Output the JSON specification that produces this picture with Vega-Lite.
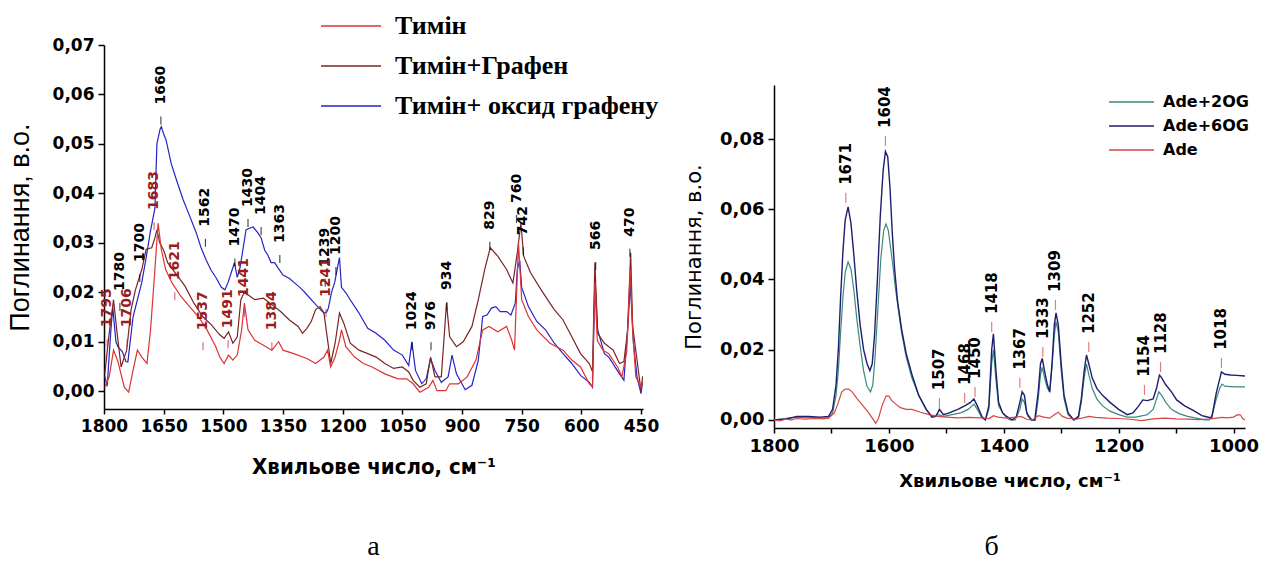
{
"$schema": "https://vega.github.io/schema/vega-lite/v6.json",
"background": "white",
"padding": {"left": 6, "top": 6, "right": 0, "bottom": 2},
"spacing": 24,
"config": {"view": {"stroke": null}, "axis": {"grid": false, "domainColor": "black", "tickColor": "black", "labelColor": "black", "titleColor": "black", "domainWidth": 1.5, "tickWidth": 1.5, "labelOverlap": false, "labelFlush": false}},
"resolve": {"scale": {"color": "independent"}, "legend": {"color": "independent"}},
"datasets": {
"thy": [
{"s":"Тимін+ оксид графену","x":1798,"y":0.003},{"s":"Тимін+ оксид графену","x":1792,"y":0.001},{"s":"Тимін+ оксид графену","x":1783,"y":0.012},{"s":"Тимін+ оксид графену","x":1778,"y":0.017},{"s":"Тимін+ оксид графену","x":1770,"y":0.01},{"s":"Тимін+ оксид графену","x":1765,"y":0.009},{"s":"Тимін+ оксид графену","x":1754,"y":0.008},{"s":"Тимін+ оксид графену","x":1745,"y":0.006},{"s":"Тимін+ оксид графену","x":1740,"y":0.0059},{"s":"Тимін+ оксид графену","x":1727,"y":0.015},{"s":"Тимін+ оксид графену","x":1716,"y":0.0185},{"s":"Тимін+ оксид графену","x":1705,"y":0.022},{"s":"Тимін+ оксид графену","x":1694,"y":0.027},{"s":"Тимін+ оксид графену","x":1684,"y":0.032},{"s":"Тимін+ оксид графену","x":1672,"y":0.037},{"s":"Тимін+ оксид графену","x":1667,"y":0.05},{"s":"Тимін+ оксид графену","x":1659,"y":0.053},{"s":"Тимін+ оксид графену","x":1656,"y":0.0535},{"s":"Тимін+ оксид графену","x":1650,"y":0.052},{"s":"Тимін+ оксид графену","x":1644,"y":0.0508},{"s":"Тимін+ оксид графену","x":1631,"y":0.046},{"s":"Тимін+ оксид графену","x":1619,"y":0.043},{"s":"Тимін+ оксид графену","x":1601,"y":0.0387},{"s":"Тимін+ оксид графену","x":1584,"y":0.0353},{"s":"Тимін+ оксид графену","x":1568,"y":0.032},{"s":"Тимін+ оксид графену","x":1556,"y":0.029},{"s":"Тимін+ оксид графену","x":1543,"y":0.0265},{"s":"Тимін+ оксид графену","x":1531,"y":0.0245},{"s":"Тимін+ оксид графену","x":1518,"y":0.0229},{"s":"Тимін+ оксид графену","x":1505,"y":0.021},{"s":"Тимін+ оксид графену","x":1496,"y":0.0205},{"s":"Тимін+ оксид графену","x":1488,"y":0.022},{"s":"Тимін+ оксид графену","x":1480,"y":0.024},{"s":"Тимін+ оксид графену","x":1472,"y":0.026},{"s":"Тимін+ оксид графену","x":1465,"y":0.023},{"s":"Тимін+ оксид графену","x":1458,"y":0.025},{"s":"Тимін+ оксид графену","x":1450,"y":0.029},{"s":"Тимін+ оксид графену","x":1443,"y":0.0326},{"s":"Тимін+ оксид графену","x":1433,"y":0.033},{"s":"Тимін+ оксид графену","x":1425,"y":0.0332},{"s":"Тимін+ оксид графену","x":1413,"y":0.032},{"s":"Тимін+ оксид графену","x":1405,"y":0.031},{"s":"Тимін+ оксид графену","x":1396,"y":0.0285},{"s":"Тимін+ оксид графену","x":1388,"y":0.0275},{"s":"Тимін+ оксид графену","x":1380,"y":0.026},{"s":"Тимін+ оксид графену","x":1371,"y":0.026},{"s":"Тимін+ оксид графену","x":1363,"y":0.025},{"s":"Тимін+ оксид графену","x":1350,"y":0.0235},{"s":"Тимін+ оксид графену","x":1334,"y":0.0228},{"s":"Тимін+ оксид графену","x":1315,"y":0.0215},{"s":"Тимін+ оксид графену","x":1301,"y":0.0205},{"s":"Тимін+ оксид графену","x":1290,"y":0.0195},{"s":"Тимін+ оксид графену","x":1279,"y":0.0185},{"s":"Тимін+ оксид графену","x":1263,"y":0.0171},{"s":"Тимін+ оксид графену","x":1247,"y":0.0158},{"s":"Тимін+ оксид графену","x":1240,"y":0.016},{"s":"Тимін+ оксид графену","x":1236,"y":0.0168},{"s":"Тимін+ оксид графену","x":1228,"y":0.02},{"s":"Тимін+ оксид графену","x":1220,"y":0.022},{"s":"Тимін+ оксид графену","x":1214,"y":0.0246},{"s":"Тимін+ оксид графену","x":1208,"y":0.027},{"s":"Тимін+ оксид графену","x":1203,"y":0.021},{"s":"Тимін+ оксид графену","x":1192,"y":0.0199},{"s":"Тимін+ оксид графену","x":1181,"y":0.0185},{"s":"Тимін+ оксид графену","x":1159,"y":0.0158},{"s":"Тимін+ оксид графену","x":1137,"y":0.0127},{"s":"Тимін+ оксид графену","x":1116,"y":0.0117},{"s":"Тимін+ оксид графену","x":1094,"y":0.0103},{"s":"Тимін+ оксид графену","x":1072,"y":0.0083},{"s":"Тимін+ оксид графену","x":1050,"y":0.0073},{"s":"Тимін+ оксид графену","x":1034,"y":0.0052},{"s":"Тимін+ оксид графену","x":1026,"y":0.01},{"s":"Тимін+ оксид графену","x":1017,"y":0.0042},{"s":"Тимін+ оксид графену","x":1001,"y":0.0015},{"s":"Тимін+ оксид графену","x":990,"y":0.0025},{"s":"Тимін+ оксид графену","x":979,"y":0.0066},{"s":"Тимін+ оксид графену","x":968,"y":0.0042},{"s":"Тимін+ оксид графену","x":952,"y":0.0018},{"s":"Тимін+ оксид графену","x":935,"y":0.0029},{"s":"Тимін+ оксид графену","x":925,"y":0.0073},{"s":"Тимін+ оксид графену","x":914,"y":0.0035},{"s":"Тимін+ оксид графену","x":892,"y":0.0003},{"s":"Тимін+ оксид графену","x":875,"y":0.0012},{"s":"Тимін+ оксид графену","x":859,"y":0.0063},{"s":"Тимін+ оксид графену","x":848,"y":0.0151},{"s":"Тимін+ оксид графену","x":837,"y":0.0154},{"s":"Тимін+ оксид графену","x":826,"y":0.0168},{"s":"Тимін+ оксид графену","x":815,"y":0.0171},{"s":"Тимін+ оксид графену","x":804,"y":0.0161},{"s":"Тимін+ оксид графену","x":788,"y":0.0161},{"s":"Тимін+ оксид графену","x":777,"y":0.0154},{"s":"Тимін+ оксид графену","x":766,"y":0.0178},{"s":"Тимін+ оксид графену","x":761,"y":0.0246},{"s":"Тимін+ оксид графену","x":755,"y":0.0265},{"s":"Тимін+ оксид графену","x":750,"y":0.021},{"s":"Тимін+ оксид графену","x":733,"y":0.0171},{"s":"Тимін+ оксид графену","x":712,"y":0.0141},{"s":"Тимін+ оксид графену","x":690,"y":0.0124},{"s":"Тимін+ оксид графену","x":668,"y":0.0097},{"s":"Тимін+ оксид графену","x":646,"y":0.0076},{"s":"Тимін+ оксид графену","x":624,"y":0.0056},{"s":"Тимін+ оксид графену","x":602,"y":0.0032},{"s":"Тимін+ оксид графену","x":580,"y":0.0018},{"s":"Тимін+ оксид графену","x":572,"y":0.0008},{"s":"Тимін+ оксид графену","x":566,"y":0.0225},{"s":"Тимін+ оксид графену","x":559,"y":0.0124},{"s":"Тимін+ оксид графену","x":542,"y":0.0076},{"s":"Тимін+ оксид графену","x":531,"y":0.0069},{"s":"Тимін+ оксид графену","x":504,"y":0.0035},{"s":"Тимін+ оксид графену","x":493,"y":0.0022},{"s":"Тимін+ оксид графену","x":482,"y":0.0144},{"s":"Тимін+ оксид графену","x":477,"y":0.0219},{"s":"Тимін+ оксид графену","x":469,"y":0.0097},{"s":"Тимін+ оксид графену","x":460,"y":0.0029},{"s":"Тимін+ оксид графену","x":450,"y":-0.0005},{"s":"Тимін+ оксид графену","x":446,"y":0.002},
{"s":"Тимін+Графен","x":1798,"y":0.0035},{"s":"Тимін+Графен","x":1787,"y":0.0117},{"s":"Тимін+Графен","x":1776,"y":0.0185},{"s":"Тимін+Графен","x":1768,"y":0.0124},{"s":"Тимін+Графен","x":1757,"y":0.0049},{"s":"Тимін+Графен","x":1743,"y":0.0083},{"s":"Тимін+Графен","x":1732,"y":0.0165},{"s":"Тимін+Графен","x":1721,"y":0.0205},{"s":"Тимін+Графен","x":1705,"y":0.0246},{"s":"Тимін+Графен","x":1694,"y":0.0287},{"s":"Тимін+Графен","x":1680,"y":0.029},{"s":"Тимін+Графен","x":1672,"y":0.031},{"s":"Тимін+Графен","x":1667,"y":0.0326},{"s":"Тимін+Графен","x":1660,"y":0.03},{"s":"Тимін+Графен","x":1650,"y":0.0285},{"s":"Тимін+Графен","x":1640,"y":0.026},{"s":"Тимін+Графен","x":1618,"y":0.0236},{"s":"Тимін+Графен","x":1596,"y":0.0212},{"s":"Тимін+Графен","x":1574,"y":0.0178},{"s":"Тимін+Графен","x":1552,"y":0.0151},{"s":"Тимін+Графен","x":1530,"y":0.0134},{"s":"Тимін+Графен","x":1509,"y":0.0114},{"s":"Тимін+Графен","x":1498,"y":0.0107},{"s":"Тимін+Графен","x":1487,"y":0.012},{"s":"Тимін+Графен","x":1476,"y":0.0097},{"s":"Тимін+Графен","x":1465,"y":0.011},{"s":"Тимін+Графен","x":1456,"y":0.0185},{"s":"Тимін+Графен","x":1448,"y":0.0199},{"s":"Тимін+Графен","x":1438,"y":0.0195},{"s":"Тимін+Графен","x":1421,"y":0.0185},{"s":"Тимін+Графен","x":1399,"y":0.0188},{"s":"Тимін+Графен","x":1378,"y":0.0175},{"s":"Тимін+Графен","x":1356,"y":0.0161},{"s":"Тимін+Графен","x":1334,"y":0.0144},{"s":"Тимін+Графен","x":1312,"y":0.0131},{"s":"Тимін+Графен","x":1301,"y":0.0117},{"s":"Тимін+Графен","x":1290,"y":0.0127},{"s":"Тимін+Графен","x":1279,"y":0.0141},{"s":"Тимін+Графен","x":1268,"y":0.0165},{"s":"Тимін+Графен","x":1257,"y":0.0171},{"s":"Тимін+Графен","x":1247,"y":0.0158},{"s":"Тимін+Графен","x":1230,"y":0.0056},{"s":"Тимін+Графен","x":1219,"y":0.0097},{"s":"Тимін+Графен","x":1208,"y":0.0158},{"s":"Тимін+Графен","x":1197,"y":0.0137},{"s":"Тимін+Графен","x":1181,"y":0.0097},{"s":"Тимін+Графен","x":1159,"y":0.0083},{"s":"Тимін+Графен","x":1137,"y":0.0076},{"s":"Тимін+Графен","x":1116,"y":0.0069},{"s":"Тимін+Графен","x":1094,"y":0.0056},{"s":"Тимін+Графен","x":1072,"y":0.0046},{"s":"Тимін+Графен","x":1050,"y":0.0049},{"s":"Тимін+Графен","x":1034,"y":0.0039},{"s":"Тимін+Графен","x":1023,"y":0.0022},{"s":"Тимін+Графен","x":1006,"y":0.0008},{"s":"Тимін+Графен","x":990,"y":0.0015},{"s":"Тимін+Графен","x":979,"y":0.0069},{"s":"Тимін+Графен","x":968,"y":0.0029},{"s":"Тимін+Графен","x":952,"y":0.0029},{"s":"Тимін+Графен","x":939,"y":0.0178},{"s":"Тимін+Графен","x":931,"y":0.011},{"s":"Тимін+Графен","x":914,"y":0.009},{"s":"Тимін+Графен","x":897,"y":0.01},{"s":"Тимін+Графен","x":875,"y":0.0131},{"s":"Тимін+Графен","x":859,"y":0.0185},{"s":"Тимін+Графен","x":843,"y":0.0246},{"s":"Тимін+Графен","x":829,"y":0.029},{"s":"Тимін+Графен","x":810,"y":0.0273},{"s":"Тимін+Графен","x":788,"y":0.0246},{"s":"Тимін+Графен","x":772,"y":0.0219},{"s":"Тимін+Графен","x":761,"y":0.028},{"s":"Тимін+Графен","x":752,"y":0.034},{"s":"Тимін+Графен","x":745,"y":0.0273},{"s":"Тимін+Графен","x":728,"y":0.024},{"s":"Тимін+Графен","x":701,"y":0.0205},{"s":"Тимін+Графен","x":679,"y":0.0178},{"s":"Тимін+Графен","x":668,"y":0.0165},{"s":"Тимін+Графен","x":646,"y":0.0144},{"s":"Тимін+Графен","x":624,"y":0.011},{"s":"Тимін+Графен","x":602,"y":0.0076},{"s":"Тимін+Графен","x":580,"y":0.0056},{"s":"Тимін+Графен","x":572,"y":0.004},{"s":"Тимін+Графен","x":566,"y":0.026},{"s":"Тимін+Графен","x":559,"y":0.0117},{"s":"Тимін+Графен","x":542,"y":0.0097},{"s":"Тимін+Графен","x":520,"y":0.0083},{"s":"Тимін+Графен","x":504,"y":0.0056},{"s":"Тимін+Графен","x":493,"y":0.006},{"s":"Тимін+Графен","x":484,"y":0.012},{"s":"Тимін+Графен","x":476,"y":0.028},{"s":"Тимін+Графен","x":471,"y":0.0131},{"s":"Тимін+Графен","x":460,"y":0.0063},{"s":"Тимін+Графен","x":450,"y":0.0},{"s":"Тимін+Графен","x":446,"y":0.003},
{"s":"Тимін","x":1798,"y":0.0008},{"s":"Тимін","x":1787,"y":0.0029},{"s":"Тимін","x":1776,"y":0.0083},{"s":"Тимін","x":1765,"y":0.006},{"s":"Тимін","x":1749,"y":0.0008},{"s":"Тимін","x":1738,"y":-0.0002},{"s":"Тимін","x":1727,"y":0.0042},{"s":"Тимін","x":1716,"y":0.0083},{"s":"Тимін","x":1705,"y":0.0069},{"s":"Тимін","x":1692,"y":0.0056},{"s":"Тимін","x":1683,"y":0.0124},{"s":"Тимін","x":1672,"y":0.0246},{"s":"Тимін","x":1664,"y":0.034},{"s":"Тимін","x":1656,"y":0.0287},{"s":"Тимін","x":1645,"y":0.0246},{"s":"Тимін","x":1629,"y":0.0219},{"s":"Тимін","x":1607,"y":0.0192},{"s":"Тимін","x":1585,"y":0.0171},{"s":"Тимін","x":1563,"y":0.0151},{"s":"Тимін","x":1541,"y":0.0124},{"s":"Тимін","x":1519,"y":0.009},{"s":"Тимін","x":1509,"y":0.0069},{"s":"Тимін","x":1498,"y":0.0056},{"s":"Тимін","x":1487,"y":0.0073},{"s":"Тимін","x":1476,"y":0.0063},{"s":"Тимін","x":1465,"y":0.0073},{"s":"Тимін","x":1454,"y":0.0124},{"s":"Тимін","x":1447,"y":0.0178},{"s":"Тимін","x":1438,"y":0.0124},{"s":"Тимін","x":1421,"y":0.0103},{"s":"Тимін","x":1399,"y":0.0093},{"s":"Тимін","x":1378,"y":0.0083},{"s":"Тимін","x":1361,"y":0.01},{"s":"Тимін","x":1350,"y":0.0083},{"s":"Тимін","x":1323,"y":0.0076},{"s":"Тимін","x":1290,"y":0.0066},{"s":"Тимін","x":1268,"y":0.0056},{"s":"Тимін","x":1247,"y":0.0069},{"s":"Тимін","x":1238,"y":0.0083},{"s":"Тимін","x":1230,"y":0.0049},{"s":"Тимін","x":1219,"y":0.0069},{"s":"Тимін","x":1208,"y":0.0103},{"s":"Тимін","x":1203,"y":0.0124},{"s":"Тимін","x":1192,"y":0.009},{"s":"Тимін","x":1170,"y":0.0069},{"s":"Тимін","x":1148,"y":0.0056},{"s":"Тимін","x":1126,"y":0.0049},{"s":"Тимін","x":1094,"y":0.0035},{"s":"Тимін","x":1061,"y":0.0025},{"s":"Тимін","x":1039,"y":0.0025},{"s":"Тимін","x":1023,"y":0.0015},{"s":"Тимін","x":1006,"y":-0.0002},{"s":"Тимін","x":984,"y":0.0008},{"s":"Тимін","x":973,"y":0.0022},{"s":"Тимін","x":963,"y":0.0001},{"s":"Тимін","x":941,"y":0.0001},{"s":"Тимін","x":931,"y":0.0015},{"s":"Тимін","x":909,"y":0.0015},{"s":"Тимін","x":887,"y":0.0029},{"s":"Тимін","x":865,"y":0.0063},{"s":"Тимін","x":848,"y":0.0124},{"s":"Тимін","x":832,"y":0.0131},{"s":"Тимін","x":810,"y":0.012},{"s":"Тимін","x":788,"y":0.0131},{"s":"Тимін","x":775,"y":0.0103},{"s":"Тимін","x":768,"y":0.0083},{"s":"Тимін","x":758,"y":0.03},{"s":"Тимін","x":750,"y":0.0185},{"s":"Тимін","x":733,"y":0.0151},{"s":"Тимін","x":712,"y":0.0124},{"s":"Тимін","x":679,"y":0.0097},{"s":"Тимін","x":646,"y":0.0083},{"s":"Тимін","x":624,"y":0.0063},{"s":"Тимін","x":602,"y":0.0049},{"s":"Тимін","x":580,"y":0.0015},{"s":"Тимін","x":572,"y":0.001},{"s":"Тимін","x":566,"y":0.022},{"s":"Тимін","x":560,"y":0.0103},{"s":"Тимін","x":546,"y":0.0083},{"s":"Тимін","x":531,"y":0.0076},{"s":"Тимін","x":509,"y":0.0049},{"s":"Тимін","x":498,"y":0.0029},{"s":"Тимін","x":486,"y":0.008},{"s":"Тимін","x":477,"y":0.0246},{"s":"Тимін","x":471,"y":0.012},{"s":"Тимін","x":463,"y":0.0029},{"s":"Тимін","x":450,"y":0.0008},{"s":"Тимін","x":446,"y":0.002}
],
"thyLab": [
{"g":"Тимін+ оксид графену","x":1760,"y":0.0158,"t":"1780"},
{"g":"Тимін+ оксид графену","x":1710,"y":0.0217,"t":"1700"},
{"g":"Тимін+ оксид графену","x":1657,"y":0.0535,"t":"1660"},
{"g":"Тимін+ оксид графену","x":1545,"y":0.0288,"t":"1562"},
{"g":"Тимін+ оксид графену","x":1471,"y":0.0248,"t":"1470"},
{"g":"Тимін+ оксид графену","x":1438,"y":0.0328,"t":"1430"},
{"g":"Тимін+ оксид графену","x":1405,"y":0.0312,"t":"1404"},
{"g":"Тимін+ оксид графену","x":1358,"y":0.0255,"t":"1363"},
{"g":"Тимін+ оксид графену","x":1244,"y":0.0207,"t":"1239"},
{"g":"Тимін+ оксид графену","x":1217,"y":0.0231,"t":"1200"},
{"g":"Тимін+ оксид графену","x":1026,"y":0.0079,"t":"1024"},
{"g":"Тимін+ оксид графену","x":978,"y":0.0079,"t":"976"},
{"g":"Тимін+ оксид графену","x":938,"y":0.016,"t":"934"},
{"g":"Тимін+ оксид графену","x":830,"y":0.0282,"t":"829"},
{"g":"Тимін+ оксид графену","x":763,"y":0.0336,"t":"760"},
{"g":"Тимін+ оксид графену","x":746,"y":0.0271,"t":"742"},
{"g":"Тимін+ оксид графену","x":564,"y":0.0241,"t":"566"},
{"g":"Тимін+ оксид графену","x":478,"y":0.0268,"t":"470"},
{"g":"Тимін","x":1792,"y":0.0085,"t":"1795"},
{"g":"Тимін","x":1742,"y":0.0085,"t":"1706"},
{"g":"Тимін","x":1674,"y":0.0322,"t":"1683"},
{"g":"Тимін","x":1622,"y":0.018,"t":"1621"},
{"g":"Тимін","x":1551,"y":0.0079,"t":"1537"},
{"g":"Тимін","x":1488,"y":0.0083,"t":"1491"},
{"g":"Тимін","x":1447,"y":0.0146,"t":"1441"},
{"g":"Тимін","x":1378,"y":0.0079,"t":"1384"},
{"g":"Тимін","x":1242,"y":0.0146,"t":"1241"}
],
"ade": [
{"s":"Ade+2OG","x":1800,"y":0.0},{"s":"Ade+2OG","x":1760,"y":0.0008},{"s":"Ade+2OG","x":1720,"y":0.0006},{"s":"Ade+2OG","x":1705,"y":0.0006},{"s":"Ade+2OG","x":1698,"y":0.002},{"s":"Ade+2OG","x":1692,"y":0.007},{"s":"Ade+2OG","x":1688,"y":0.014},{"s":"Ade+2OG","x":1684,"y":0.025},{"s":"Ade+2OG","x":1680,"y":0.035},{"s":"Ade+2OG","x":1676,"y":0.042},{"s":"Ade+2OG","x":1671,"y":0.045},{"s":"Ade+2OG","x":1666,"y":0.043},{"s":"Ade+2OG","x":1661,"y":0.037},{"s":"Ade+2OG","x":1656,"y":0.029},{"s":"Ade+2OG","x":1650,"y":0.021},{"s":"Ade+2OG","x":1644,"y":0.014},{"s":"Ade+2OG","x":1638,"y":0.0095},{"s":"Ade+2OG","x":1632,"y":0.008},{"s":"Ade+2OG","x":1628,"y":0.01},{"s":"Ade+2OG","x":1624,"y":0.018},{"s":"Ade+2OG","x":1619,"y":0.032},{"s":"Ade+2OG","x":1614,"y":0.046},{"s":"Ade+2OG","x":1609,"y":0.054},{"s":"Ade+2OG","x":1605,"y":0.0558},{"s":"Ade+2OG","x":1601,"y":0.054},{"s":"Ade+2OG","x":1597,"y":0.049},{"s":"Ade+2OG","x":1593,"y":0.044},{"s":"Ade+2OG","x":1589,"y":0.038},{"s":"Ade+2OG","x":1584,"y":0.032},{"s":"Ade+2OG","x":1578,"y":0.025},{"s":"Ade+2OG","x":1570,"y":0.018},{"s":"Ade+2OG","x":1560,"y":0.012},{"s":"Ade+2OG","x":1548,"y":0.007},{"s":"Ade+2OG","x":1535,"y":0.003},{"s":"Ade+2OG","x":1525,"y":0.001},{"s":"Ade+2OG","x":1515,"y":0.0015},{"s":"Ade+2OG","x":1505,"y":0.001},{"s":"Ade+2OG","x":1490,"y":0.0015},{"s":"Ade+2OG","x":1475,"y":0.002},{"s":"Ade+2OG","x":1462,"y":0.003},{"s":"Ade+2OG","x":1452,"y":0.0045},{"s":"Ade+2OG","x":1446,"y":0.003},{"s":"Ade+2OG","x":1438,"y":0.0005},{"s":"Ade+2OG","x":1432,"y":0.0},{"s":"Ade+2OG","x":1426,"y":0.003},{"s":"Ade+2OG","x":1421,"y":0.016},{"s":"Ade+2OG","x":1418,"y":0.02},{"s":"Ade+2OG","x":1414,"y":0.012},{"s":"Ade+2OG","x":1409,"y":0.004},{"s":"Ade+2OG","x":1400,"y":0.0015},{"s":"Ade+2OG","x":1390,"y":0.0},{"s":"Ade+2OG","x":1380,"y":0.0},{"s":"Ade+2OG","x":1372,"y":0.003},{"s":"Ade+2OG","x":1368,"y":0.006},{"s":"Ade+2OG","x":1364,"y":0.005},{"s":"Ade+2OG","x":1358,"y":0.001},{"s":"Ade+2OG","x":1350,"y":0.0},{"s":"Ade+2OG","x":1345,"y":0.0},{"s":"Ade+2OG","x":1340,"y":0.006},{"s":"Ade+2OG","x":1336,"y":0.013},{"s":"Ade+2OG","x":1333,"y":0.015},{"s":"Ade+2OG","x":1329,"y":0.012},{"s":"Ade+2OG","x":1324,"y":0.009},{"s":"Ade+2OG","x":1320,"y":0.008},{"s":"Ade+2OG","x":1316,"y":0.015},{"s":"Ade+2OG","x":1312,"y":0.024},{"s":"Ade+2OG","x":1309,"y":0.028},{"s":"Ade+2OG","x":1305,"y":0.025},{"s":"Ade+2OG","x":1300,"y":0.014},{"s":"Ade+2OG","x":1295,"y":0.006},{"s":"Ade+2OG","x":1288,"y":0.0015},{"s":"Ade+2OG","x":1278,"y":0.0},{"s":"Ade+2OG","x":1270,"y":0.0005},{"s":"Ade+2OG","x":1265,"y":0.005},{"s":"Ade+2OG","x":1260,"y":0.012},{"s":"Ade+2OG","x":1256,"y":0.016},{"s":"Ade+2OG","x":1252,"y":0.013},{"s":"Ade+2OG","x":1246,"y":0.009},{"s":"Ade+2OG","x":1238,"y":0.006},{"s":"Ade+2OG","x":1228,"y":0.004},{"s":"Ade+2OG","x":1215,"y":0.0025},{"s":"Ade+2OG","x":1200,"y":0.0015},{"s":"Ade+2OG","x":1185,"y":0.0008},{"s":"Ade+2OG","x":1170,"y":0.0008},{"s":"Ade+2OG","x":1158,"y":0.0012},{"s":"Ade+2OG","x":1150,"y":0.0015},{"s":"Ade+2OG","x":1140,"y":0.003},{"s":"Ade+2OG","x":1134,"y":0.006},{"s":"Ade+2OG","x":1130,"y":0.008},{"s":"Ade+2OG","x":1125,"y":0.007},{"s":"Ade+2OG","x":1118,"y":0.005},{"s":"Ade+2OG","x":1108,"y":0.003},{"s":"Ade+2OG","x":1095,"y":0.0018},{"s":"Ade+2OG","x":1080,"y":0.001},{"s":"Ade+2OG","x":1065,"y":0.0005},{"s":"Ade+2OG","x":1050,"y":0.0},{"s":"Ade+2OG","x":1042,"y":0.0},{"s":"Ade+2OG","x":1036,"y":0.002},{"s":"Ade+2OG","x":1030,"y":0.006},{"s":"Ade+2OG","x":1024,"y":0.009},{"s":"Ade+2OG","x":1020,"y":0.0102},{"s":"Ade+2OG","x":1015,"y":0.0096},{"s":"Ade+2OG","x":1005,"y":0.0095},{"s":"Ade+2OG","x":995,"y":0.0094},{"s":"Ade+2OG","x":980,"y":0.0094},
{"s":"Ade+6OG","x":1800,"y":0.0},{"s":"Ade+6OG","x":1780,"y":0.0002},{"s":"Ade+6OG","x":1760,"y":0.001},{"s":"Ade+6OG","x":1740,"y":0.001},{"s":"Ade+6OG","x":1720,"y":0.0008},{"s":"Ade+6OG","x":1705,"y":0.001},{"s":"Ade+6OG","x":1698,"y":0.003},{"s":"Ade+6OG","x":1692,"y":0.01},{"s":"Ade+6OG","x":1688,"y":0.02},{"s":"Ade+6OG","x":1684,"y":0.035},{"s":"Ade+6OG","x":1680,"y":0.048},{"s":"Ade+6OG","x":1676,"y":0.057},{"s":"Ade+6OG","x":1671,"y":0.0607},{"s":"Ade+6OG","x":1666,"y":0.056},{"s":"Ade+6OG","x":1661,"y":0.047},{"s":"Ade+6OG","x":1656,"y":0.037},{"s":"Ade+6OG","x":1650,"y":0.027},{"s":"Ade+6OG","x":1644,"y":0.02},{"s":"Ade+6OG","x":1638,"y":0.016},{"s":"Ade+6OG","x":1633,"y":0.014},{"s":"Ade+6OG","x":1629,"y":0.016},{"s":"Ade+6OG","x":1625,"y":0.024},{"s":"Ade+6OG","x":1620,"y":0.04},{"s":"Ade+6OG","x":1615,"y":0.058},{"s":"Ade+6OG","x":1610,"y":0.071},{"s":"Ade+6OG","x":1606,"y":0.0765},{"s":"Ade+6OG","x":1602,"y":0.075},{"s":"Ade+6OG","x":1598,"y":0.066},{"s":"Ade+6OG","x":1594,"y":0.053},{"s":"Ade+6OG","x":1590,"y":0.043},{"s":"Ade+6OG","x":1585,"y":0.034},{"s":"Ade+6OG","x":1578,"y":0.026},{"s":"Ade+6OG","x":1570,"y":0.019},{"s":"Ade+6OG","x":1560,"y":0.013},{"s":"Ade+6OG","x":1548,"y":0.007},{"s":"Ade+6OG","x":1535,"y":0.003},{"s":"Ade+6OG","x":1525,"y":0.0008},{"s":"Ade+6OG","x":1518,"y":0.001},{"s":"Ade+6OG","x":1512,"y":0.003},{"s":"Ade+6OG","x":1505,"y":0.0015},{"s":"Ade+6OG","x":1495,"y":0.002},{"s":"Ade+6OG","x":1480,"y":0.003},{"s":"Ade+6OG","x":1468,"y":0.004},{"s":"Ade+6OG","x":1458,"y":0.005},{"s":"Ade+6OG","x":1452,"y":0.006},{"s":"Ade+6OG","x":1446,"y":0.004},{"s":"Ade+6OG","x":1438,"y":0.001},{"s":"Ade+6OG","x":1432,"y":0.0},{"s":"Ade+6OG","x":1426,"y":0.004},{"s":"Ade+6OG","x":1421,"y":0.02},{"s":"Ade+6OG","x":1418,"y":0.0245},{"s":"Ade+6OG","x":1414,"y":0.015},{"s":"Ade+6OG","x":1409,"y":0.005},{"s":"Ade+6OG","x":1402,"y":0.002},{"s":"Ade+6OG","x":1395,"y":0.001},{"s":"Ade+6OG","x":1385,"y":0.0},{"s":"Ade+6OG","x":1378,"y":0.001},{"s":"Ade+6OG","x":1372,"y":0.005},{"s":"Ade+6OG","x":1368,"y":0.008},{"s":"Ade+6OG","x":1364,"y":0.007},{"s":"Ade+6OG","x":1360,"y":0.002},{"s":"Ade+6OG","x":1352,"y":0.0},{"s":"Ade+6OG","x":1346,"y":0.0},{"s":"Ade+6OG","x":1340,"y":0.008},{"s":"Ade+6OG","x":1336,"y":0.016},{"s":"Ade+6OG","x":1333,"y":0.0175},{"s":"Ade+6OG","x":1329,"y":0.014},{"s":"Ade+6OG","x":1324,"y":0.01},{"s":"Ade+6OG","x":1320,"y":0.008},{"s":"Ade+6OG","x":1316,"y":0.016},{"s":"Ade+6OG","x":1312,"y":0.027},{"s":"Ade+6OG","x":1309,"y":0.0305},{"s":"Ade+6OG","x":1305,"y":0.027},{"s":"Ade+6OG","x":1300,"y":0.016},{"s":"Ade+6OG","x":1295,"y":0.007},{"s":"Ade+6OG","x":1288,"y":0.002},{"s":"Ade+6OG","x":1278,"y":0.0},{"s":"Ade+6OG","x":1270,"y":0.001},{"s":"Ade+6OG","x":1265,"y":0.006},{"s":"Ade+6OG","x":1260,"y":0.014},{"s":"Ade+6OG","x":1256,"y":0.0185},{"s":"Ade+6OG","x":1252,"y":0.016},{"s":"Ade+6OG","x":1246,"y":0.012},{"s":"Ade+6OG","x":1238,"y":0.009},{"s":"Ade+6OG","x":1228,"y":0.007},{"s":"Ade+6OG","x":1215,"y":0.005},{"s":"Ade+6OG","x":1200,"y":0.003},{"s":"Ade+6OG","x":1185,"y":0.0015},{"s":"Ade+6OG","x":1175,"y":0.002},{"s":"Ade+6OG","x":1165,"y":0.004},{"s":"Ade+6OG","x":1158,"y":0.0057},{"s":"Ade+6OG","x":1150,"y":0.0055},{"s":"Ade+6OG","x":1140,"y":0.006},{"s":"Ade+6OG","x":1134,"y":0.009},{"s":"Ade+6OG","x":1129,"y":0.0128},{"s":"Ade+6OG","x":1125,"y":0.012},{"s":"Ade+6OG","x":1118,"y":0.01},{"s":"Ade+6OG","x":1108,"y":0.008},{"s":"Ade+6OG","x":1099,"y":0.0057},{"s":"Ade+6OG","x":1085,"y":0.004},{"s":"Ade+6OG","x":1071,"y":0.0028},{"s":"Ade+6OG","x":1055,"y":0.0012},{"s":"Ade+6OG","x":1047,"y":0.0009},{"s":"Ade+6OG","x":1038,"y":0.0005},{"s":"Ade+6OG","x":1030,"y":0.0077},{"s":"Ade+6OG","x":1021,"y":0.0137},{"s":"Ade+6OG","x":1015,"y":0.013},{"s":"Ade+6OG","x":1005,"y":0.0128},{"s":"Ade+6OG","x":995,"y":0.0127},{"s":"Ade+6OG","x":980,"y":0.0125},
{"s":"Ade","x":1800,"y":0.0},{"s":"Ade","x":1790,"y":-0.0003},{"s":"Ade","x":1780,"y":0.0002},{"s":"Ade","x":1770,"y":0.0},{"s":"Ade","x":1760,"y":0.0004},{"s":"Ade","x":1745,"y":0.0002},{"s":"Ade","x":1730,"y":0.0004},{"s":"Ade","x":1715,"y":0.0003},{"s":"Ade","x":1705,"y":0.0005},{"s":"Ade","x":1695,"y":0.002},{"s":"Ade","x":1688,"y":0.005},{"s":"Ade","x":1682,"y":0.008},{"s":"Ade","x":1676,"y":0.0088},{"s":"Ade","x":1670,"y":0.0088},{"s":"Ade","x":1664,"y":0.008},{"s":"Ade","x":1655,"y":0.006},{"s":"Ade","x":1645,"y":0.004},{"s":"Ade","x":1635,"y":0.002},{"s":"Ade","x":1628,"y":0.0003},{"s":"Ade","x":1623,"y":-0.001},{"s":"Ade","x":1618,"y":0.0005},{"s":"Ade","x":1612,"y":0.004},{"s":"Ade","x":1605,"y":0.0068},{"s":"Ade","x":1600,"y":0.0068},{"s":"Ade","x":1595,"y":0.0055},{"s":"Ade","x":1588,"y":0.0045},{"s":"Ade","x":1580,"y":0.0035},{"s":"Ade","x":1570,"y":0.003},{"s":"Ade","x":1560,"y":0.003},{"s":"Ade","x":1545,"y":0.0022},{"s":"Ade","x":1530,"y":0.0015},{"s":"Ade","x":1515,"y":0.001},{"s":"Ade","x":1500,"y":0.0008},{"s":"Ade","x":1480,"y":0.0006},{"s":"Ade","x":1460,"y":0.0007},{"s":"Ade","x":1440,"y":0.0006},{"s":"Ade","x":1425,"y":0.0004},{"s":"Ade","x":1418,"y":0.0012},{"s":"Ade","x":1410,"y":0.0008},{"s":"Ade","x":1395,"y":0.0005},{"s":"Ade","x":1380,"y":0.0008},{"s":"Ade","x":1370,"y":0.001},{"s":"Ade","x":1360,"y":0.0002},{"s":"Ade","x":1350,"y":0.0},{"s":"Ade","x":1340,"y":0.0012},{"s":"Ade","x":1330,"y":0.0008},{"s":"Ade","x":1320,"y":0.0005},{"s":"Ade","x":1312,"y":0.0015},{"s":"Ade","x":1305,"y":0.0022},{"s":"Ade","x":1298,"y":0.001},{"s":"Ade","x":1290,"y":0.0005},{"s":"Ade","x":1275,"y":0.0002},{"s":"Ade","x":1262,"y":0.0006},{"s":"Ade","x":1252,"y":0.001},{"s":"Ade","x":1240,"y":0.0007},{"s":"Ade","x":1220,"y":0.0005},{"s":"Ade","x":1200,"y":0.0004},{"s":"Ade","x":1180,"y":0.0002},{"s":"Ade","x":1160,"y":-0.0002},{"s":"Ade","x":1140,"y":0.0003},{"s":"Ade","x":1120,"y":0.0005},{"s":"Ade","x":1100,"y":0.0003},{"s":"Ade","x":1080,"y":0.0002},{"s":"Ade","x":1060,"y":0.0001},{"s":"Ade","x":1045,"y":0.0002},{"s":"Ade","x":1030,"y":0.0005},{"s":"Ade","x":1020,"y":0.0007},{"s":"Ade","x":1010,"y":0.0006},{"s":"Ade","x":1000,"y":0.0008},{"s":"Ade","x":993,"y":0.0015},{"s":"Ade","x":988,"y":0.0014},{"s":"Ade","x":984,"y":0.0004},{"s":"Ade","x":980,"y":0.0}
],
"adeLab": [
{"x":1675,"y":0.0607,"t":"1671"},
{"x":1606,"y":0.0769,"t":"1604"},
{"x":1512,"y":0.0022,"t":"1507"},
{"x":1468,"y":0.0037,"t":"1468"},
{"x":1450,"y":0.0054,"t":"1450"},
{"x":1421,"y":0.0239,"t":"1418"},
{"x":1372,"y":0.008,"t":"1367"},
{"x":1332,"y":0.0168,"t":"1333"},
{"x":1310,"y":0.0302,"t":"1309"},
{"x":1252,"y":0.0182,"t":"1252"},
{"x":1155,"y":0.006,"t":"1154"},
{"x":1127,"y":0.0125,"t":"1128"},
{"x":1021,"y":0.0137,"t":"1018"}
]
},
"hconcat": [
{
"width": 539, "height": 364,
"title": {"text": "а", "orient": "bottom", "frame": "group", "font": "Liberation Serif", "fontSize": 28, "fontWeight": "normal", "color": "black", "offset": 56},
"layer": [
{"data": {"name": "thy"}, "transform": [{"filter": "datum.s === 'Тимін+ оксид графену'"}],
 "mark": {"type": "line", "strokeWidth": 1.2, "clip": true},
 "encoding": {
  "x": {"field": "x", "type": "quantitative", "scale": {"domain": [1800, 445], "nice": false, "zero": false},
   "axis": {"values": [1800,1725,1650,1575,1500,1425,1350,1275,1200,1125,1050,975,900,825,750,675,600,525,450], "labelExpr": "datum.value % 150 === 0 ? format(datum.value, 'd') : ''", "title": "Хвильове число, см⁻¹", "titleFont": "Liberation Sans Narrow, DejaVu Sans Condensed, Liberation Sans", "titleFontSize": 22, "titleFontWeight": "bold", "titlePadding": 22, "labelFont": "DejaVu Sans", "labelFontSize": 17, "labelFontWeight": "bold", "labelPadding": 4, "tickSize": 5}},
  "y": {"field": "y", "type": "quantitative", "scale": {"domain": [-0.0036, 0.07], "nice": false, "zero": false},
   "axis": {"values": [0,0.005,0.01,0.015,0.02,0.025,0.03,0.035,0.04,0.045,0.05,0.055,0.06,0.065,0.07], "labelExpr": "round(datum.value*1000) % 10 === 0 ? replace(format(datum.value, '.2f'), '.', ',') : ''", "title": "Поглинання, в.о.", "titleFont": "Liberation Sans", "titleFontSize": 27, "titleFontWeight": "normal", "titlePadding": 18, "labelFont": "DejaVu Sans", "labelFontSize": 17, "labelFontWeight": "bold", "labelPadding": 4, "tickSize": 6}},
  "color": {"field": "s", "type": "nominal", "scale": {"domain": ["Тимін", "Тимін+Графен", "Тимін+ оксид графену"], "range": ["#dd3333", "#7a2424", "#2424c8"]},
   "legend": {"title": null, "orient": "none", "legendX": 216, "legendY": -39, "symbolType": "stroke", "symbolSize": 3600, "symbolStrokeWidth": 1.5, "clipHeight": 40, "rowPadding": 0, "padding": 0, "labelFont": "Liberation Serif", "labelFontSize": 26, "labelFontWeight": "bold", "labelColor": "black", "labelOffset": 13, "labelLimit": 500}}
 }},
{"data": {"name": "thy"}, "transform": [{"filter": "datum.s === 'Тимін+Графен'"}],
 "mark": {"type": "line", "strokeWidth": 1.2, "clip": true},
 "encoding": {"x": {"field": "x", "type": "quantitative"}, "y": {"field": "y", "type": "quantitative"}, "color": {"field": "s", "type": "nominal"}}},
{"data": {"name": "thy"}, "transform": [{"filter": "datum.s === 'Тимін'"}],
 "mark": {"type": "line", "strokeWidth": 1.2, "clip": true},
 "encoding": {"x": {"field": "x", "type": "quantitative"}, "y": {"field": "y", "type": "quantitative"}, "color": {"field": "s", "type": "nominal"}}},
{"data": {"name": "thyLab"}, "transform": [{"filter": "datum.g === 'Тимін+ оксид графену'"}],
 "mark": {"type": "tick", "orient": "vertical", "size": 8, "thickness": 1.2, "yOffset": -6, "color": "black"},
 "encoding": {"x": {"field": "x", "type": "quantitative"}, "y": {"field": "y", "type": "quantitative"}}},
{"data": {"name": "thyLab"}, "transform": [{"filter": "datum.g === 'Тимін+ оксид графену'"}],
 "mark": {"type": "text", "angle": 270, "align": "left", "baseline": "middle", "dx": 22, "font": "DejaVu Sans", "fontSize": 14, "fontWeight": "bold", "color": "black"},
 "encoding": {"x": {"field": "x", "type": "quantitative"}, "y": {"field": "y", "type": "quantitative"}, "text": {"field": "t"}}},
{"data": {"name": "thyLab"}, "transform": [{"filter": "datum.g === 'Тимін'"}],
 "mark": {"type": "tick", "orient": "vertical", "size": 8, "thickness": 1.2, "yOffset": -6, "color": "#c0306a"},
 "encoding": {"x": {"field": "x", "type": "quantitative"}, "y": {"field": "y", "type": "quantitative"}}},
{"data": {"name": "thyLab"}, "transform": [{"filter": "datum.g === 'Тимін'"}],
 "mark": {"type": "text", "angle": 270, "align": "left", "baseline": "middle", "dx": 22, "font": "DejaVu Sans", "fontSize": 14, "fontWeight": "bold", "color": "#9a1c1c"},
 "encoding": {"x": {"field": "x", "type": "quantitative"}, "y": {"field": "y", "type": "quantitative"}, "text": {"field": "t"}}}
]
},
{
"spacing": 0,
"vconcat": [
{"width": 1, "height": 40, "data": {"values": []}, "mark": "point"},
{
"width": 471, "height": 343,
"title": {"text": "б", "orient": "bottom", "frame": "group", "font": "Liberation Serif", "fontSize": 28, "fontWeight": "normal", "color": "black", "offset": 43, "dx": -18},
"layer": [
{"data": {"name": "ade"}, "transform": [{"filter": "datum.s === 'Ade+2OG'"}],
 "mark": {"type": "line", "strokeWidth": 1.2, "clip": true},
 "encoding": {
  "x": {"field": "x", "type": "quantitative", "scale": {"domain": [1800, 980], "nice": false, "zero": false},
   "axis": {"values": [1800,1700,1600,1500,1400,1300,1200,1100,1000], "labelExpr": "datum.value % 200 === 0 ? format(datum.value, 'd') : ''", "title": "Хвильове число, см⁻¹", "titleFont": "DejaVu Sans", "titleFontSize": 18, "titleFontWeight": "bold", "titlePadding": 17, "labelFont": "DejaVu Sans", "labelFontSize": 18, "labelFontWeight": "bold", "labelPadding": 4, "tickSize": 5}},
  "y": {"field": "y", "type": "quantitative", "scale": {"domain": [-0.0023, 0.0954], "nice": false, "zero": false},
   "axis": {"values": [0,0.01,0.02,0.03,0.04,0.05,0.06,0.07,0.08,0.09], "labelExpr": "round(datum.value*100) % 2 === 0 ? replace(format(datum.value, '.2f'), '.', ',') : ''", "title": "Поглинання, в.о.", "titleFont": "DejaVu Sans", "titleFontSize": 21, "titleFontWeight": "normal", "titlePadding": 15, "labelFont": "DejaVu Sans", "labelFontSize": 18, "labelFontWeight": "bold", "labelPadding": 4, "tickSize": 6}},
  "color": {"field": "s", "type": "nominal", "scale": {"domain": ["Ade+2OG", "Ade+6OG", "Ade"], "range": ["#3a8a7c", "#1e1e6e", "#d84444"]},
   "legend": {"title": null, "orient": "none", "legendX": 334, "legendY": 45, "symbolType": "stroke", "symbolSize": 2025, "symbolStrokeWidth": 1.5, "clipHeight": 24, "rowPadding": 0, "padding": 0, "labelFont": "DejaVu Sans", "labelFontSize": 16, "labelFontWeight": "bold", "labelColor": "black", "labelOffset": 8, "labelLimit": 300}}
 }},
{"data": {"name": "ade"}, "transform": [{"filter": "datum.s === 'Ade+6OG'"}],
 "mark": {"type": "line", "strokeWidth": 1.4, "clip": true},
 "encoding": {"x": {"field": "x", "type": "quantitative"}, "y": {"field": "y", "type": "quantitative"}, "color": {"field": "s", "type": "nominal"}}},
{"data": {"name": "ade"}, "transform": [{"filter": "datum.s === 'Ade'"}],
 "mark": {"type": "line", "strokeWidth": 1.2, "clip": true},
 "encoding": {"x": {"field": "x", "type": "quantitative"}, "y": {"field": "y", "type": "quantitative"}, "color": {"field": "s", "type": "nominal"}}},
{"data": {"name": "adeLab"},
 "mark": {"type": "tick", "orient": "vertical", "size": 10, "thickness": 1.2, "yOffset": -9, "color": "#d84444"},
 "encoding": {"x": {"field": "x", "type": "quantitative"}, "y": {"field": "y", "type": "quantitative"}}},
{"data": {"name": "adeLab"},
 "mark": {"type": "text", "angle": 270, "align": "left", "baseline": "middle", "dx": 22, "font": "DejaVu Sans", "fontSize": 15, "fontWeight": "bold", "color": "black"},
 "encoding": {"x": {"field": "x", "type": "quantitative"}, "y": {"field": "y", "type": "quantitative"}, "text": {"field": "t"}}}
]
}
]
}
]
}
